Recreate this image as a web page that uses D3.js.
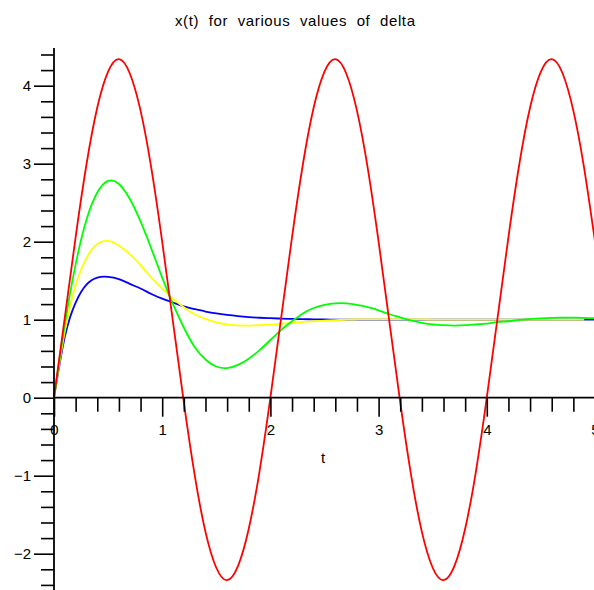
<!DOCTYPE html>
<html>
<head>
<meta charset="utf-8">
<script src="https://cdn.jsdelivr.net/npm/d3@7"></script>
<style>
  body { margin: 0; background: white; }
  svg { display: block; font-family: "Liberation Sans", Arial, sans-serif; }
</style>
</head>
<body>
<script>
const WIDTH = 594;
const HEIGHT = 590;

// t samples, step 0.1
const tValues = d3.range(51).map(i => +(i * 0.1).toFixed(1));

// delta = 0
const redValues = [0, 1.03, 2.06, 2.99, 3.72, 4.18, 4.34, 4.16, 3.68, 2.94,
  2.0, 0.97, -0.06, -0.99, -1.72, -2.18, -2.34, -2.16, -1.68, -0.94,
  0, 1.03, 2.06, 2.99, 3.72, 4.18, 4.34, 4.16, 3.68, 2.94,
  2.0, 0.97, -0.06, -0.99, -1.72, -2.18, -2.34, -2.16, -1.68, -0.94,
  0, 1.03, 2.06, 2.99, 3.72, 4.18, 4.34, 4.16, 3.68, 2.94, 2.0];

// delta = 2
const greenValues = [0, 0.94, 1.71, 2.28, 2.63, 2.78, 2.74, 2.55, 2.26, 1.91,
  1.54, 1.20, 0.90, 0.65, 0.49, 0.40, 0.38, 0.42, 0.50, 0.61,
  0.74, 0.87, 0.98, 1.08, 1.15, 1.19, 1.21, 1.21, 1.19, 1.16,
  1.12, 1.07, 1.03, 0.99, 0.96, 0.94, 0.93, 0.925, 0.93, 0.94,
  0.95, 0.97, 0.98, 0.997, 1.008, 1.017, 1.023, 1.026, 1.026, 1.023, 1.019];

// delta = 4 (trace stops a little before t = 5)
const yellowValues = [0, 0.85, 1.44, 1.79, 1.97, 2.01, 1.95, 1.84, 1.70, 1.54,
  1.40, 1.27, 1.16, 1.07, 1.01, 0.966, 0.94, 0.927, 0.925, 0.929,
  0.938, 0.948, 0.96, 0.971, 0.98, 0.988, 0.995, 1.0, 1.003, 1.004,
  1.005, 1.005, 1.005, 1.004, 1.003, 1.002, 1.001, 1.001, 1.0, 1.0,
  1.0, 1.0, 1.0, 1.0, 1.0, 1.0, 1.0, 1.0, 1.0, 1.0];

// delta = 6
const blueValues = [0, 0.78, 1.22, 1.45, 1.54, 1.55, 1.52, 1.46, 1.40, 1.33,
  1.27, 1.22, 1.17, 1.135, 1.105, 1.08, 1.061, 1.046, 1.034, 1.025,
  1.019, 1.014, 1.01, 1.007, 1.005, 1.003, 1.002, 1.002, 1.001, 1.001,
  1.0, 1.0, 1.0, 1.0, 1.0, 1.0, 1.0, 1.0, 1.0, 1.0,
  1.0, 1.0, 1.0, 1.0, 1.0, 1.0, 1.0, 1.0, 1.0, 1.0, 1.0];

// drawing order: last one on top
const seriesList = [
  { name: "delta 6", values: blueValues, color: "#0000ff" },
  { name: "delta 4", values: yellowValues, color: "#ffff00" },
  { name: "delta 2", values: greenValues, color: "#00ff00" },
  { name: "delta 0", values: redValues, color: "#ff0000" }
];

const xMajor = [0, 1, 2, 3, 4, 5];
const yMajor = [-2, -1, 0, 1, 2, 3, 4];

const x = d3.scaleLinear().domain([0, 5]).range([54, 595]);
const y = d3.scaleLinear().domain([-2.5, 4.5]).range([592.7, 46.7]);

const svg = d3.select("body")
              .append("svg")
              .attr("width", WIDTH)
              .attr("height", HEIGHT);

svg.append("text")
   .attr("x", 175)
   .attr("y", 26)
   .attr("font-size", 15)
   .attr("textLength", 240)
   .attr("lengthAdjust", "spacing")
   .text("x(t)\u00a0 for\u00a0 various\u00a0 values\u00a0 of\u00a0 delta");

//curves
const line = d3.line()
               .x(d => x(d[0]))
               .y(d => y(d[1]))
               .curve(d3.curveNatural);

svg.append("g")
   .selectAll("path")
   .data(seriesList)
   .join("path")
   .attr("d", s => line(s.values.map((v, i) => [tValues[i], v])))
   .attr("fill", "none")
   .attr("stroke", s => s.color)
   .attr("stroke-width", 1.8);

//axes
const minorY = d3.range(-12, 23).map(i => +(i * 0.2).toFixed(1)).filter(v => !yMajor.includes(v));
const minorX = d3.range(0, 26).map(i => +(i * 0.2).toFixed(1)).filter(v => !xMajor.includes(v));

const yAxisG = svg.append("g").attr("transform", "translate(" + x(0) + ",0)");
yAxisG.append("g")
      .call(d3.axisLeft(y).tickValues(minorY).tickSize(13).tickFormat(""));
yAxisG.append("g")
      .call(d3.axisLeft(y).tickValues(yMajor).tickSize(20).tickPadding(3).tickFormat(d3.format("d")));

const xAxisG = svg.append("g").attr("transform", "translate(0," + y(0) + ")");
xAxisG.append("g")
      .call(d3.axisBottom(x).tickValues(minorX).tickSize(14).tickFormat(""));
xAxisG.append("g")
      .call(d3.axisBottom(x).tickValues(xMajor).tickSize(19).tickPadding(8).tickFormat(d3.format("d")));

svg.selectAll(".domain").remove();
svg.selectAll(".tick line").attr("stroke", "black").attr("stroke-width", 1.6);
svg.selectAll(".tick text")
   .attr("font-size", 15)
   .attr("font-family", "'Liberation Sans', Arial, sans-serif")
   .attr("fill", "black");

svg.append("line")
   .attr("x1", x(0)).attr("x2", x(0))
   .attr("y1", 48).attr("y2", HEIGHT)
   .attr("stroke", "black").attr("stroke-width", 1.8);
svg.append("line")
   .attr("x1", x(0)).attr("x2", WIDTH)
   .attr("y1", y(0)).attr("y2", y(0))
   .attr("stroke", "black").attr("stroke-width", 1.8);

svg.append("text")
   .attr("x", 323)
   .attr("y", 463)
   .attr("text-anchor", "middle")
   .attr("font-size", 15)
   .text("t");
</script>
</body>
</html>
